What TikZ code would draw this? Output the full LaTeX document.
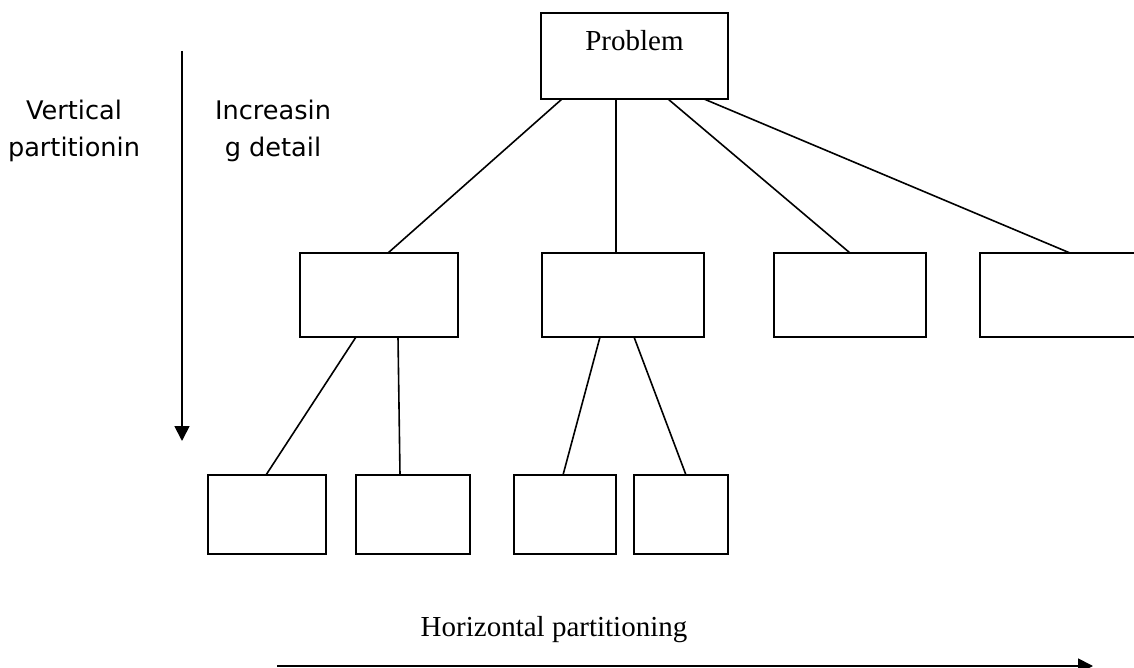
\documentclass[tikz,border=0pt]{standalone}
\usepackage{fontspec}
\setmainfont{Liberation Serif}
\newfontfamily\gothicfont{DejaVu Sans}
\usetikzlibrary{calc,arrows.meta}

\tikzset{
	partbox/.style={draw, line width=1.8pt, inner sep=0pt, outer sep=0pt},
	link/.style={line width=1.6pt},
	sidetext/.style={font=\gothicfont\fontsize{25.6}{37}\selectfont, align=center, inner sep=0pt},
	serif/.style={font=\fontsize{29}{34}\selectfont, inner sep=0pt},
	partarrow/.style={line width=1.8pt, -{Triangle[width=15pt,length=15pt]}}
}

\begin{document}
\begin{tikzpicture}[x=1pt,y=-1pt]
		%%%%% START %%%%%
		\useasboundingbox (0,0) rectangle (1134,668);
		
		% top box
		\node[partbox, serif, minimum width=187pt, text height=38pt, text depth=48pt] (problem) at (634.5,56) {Problem};
		
		% second level
		\node[partbox, minimum width=158pt, minimum height=84pt] (mida) at (379,295) {};
		\node[partbox, minimum width=162pt, minimum height=84pt] (midb) at (623,295) {};
		\node[partbox, minimum width=152pt, minimum height=84pt] (midc) at (850,295) {};
		\node[partbox, minimum width=160pt, minimum height=84pt] (midd) at (1060,295) {};
		
		% third level
		\node[partbox, minimum width=118pt, minimum height=79pt] (lowa) at (267,514.5) {};
		\node[partbox, minimum width=114pt, minimum height=79pt] (lowb) at (413,514.5) {};
		\node[partbox, minimum width=102pt, minimum height=79pt] (lowc) at (565,514.5) {};
		\node[partbox, minimum width=94pt, minimum height=79pt] (lowd) at (681,514.5) {};
		
		\draw[link] ($(problem.south west)+(21,0)$) -- ($(mida.north west)+(88,0)$);
		\draw[link] ($(problem.south west)+(75,0)$) -- ($(midb.north west)+(74,0)$);
		\draw[link] ($(problem.south west)+(127,0)$) -- ($(midc.north west)+(76,0)$);
		\draw[link] ($(problem.south west)+(163,0)$) -- ($(midd.north west)+(90,0)$);
		
		\draw[link] ($(mida.south west)+(56,0)$) -- ($(lowa.north west)+(58,0)$);
		\draw[link] ($(mida.south west)+(98,0)$) -- ($(lowb.north west)+(44,0)$);
		\draw[link] ($(midb.south west)+(58,0)$) -- ($(lowc.north west)+(49,0)$);
		\draw[link] ($(midb.south west)+(92,0)$) -- ($(lowd.north west)+(52,0)$);
		
		% partitioning arrows and labels
		\node[sidetext, anchor=base] (vert) at (74,157) {Vertical\\partitionin};
		\node[sidetext, anchor=base] (incr) at (273,157) {Increasin\\g detail};
		\coordinate (vtop) at (182,51);
		\coordinate (vend) at (182,441);
		\draw[partarrow] (vtop) -- (vend);
		
		\node[serif, anchor=base] (horiz) at (554,636) {Horizontal partitioning};
		\coordinate (hstart) at (277,666);
		\coordinate (hend) at (1093,666);
		\draw[partarrow] (hstart) -- (hend);
		%%%%% END %%%%%
\end{tikzpicture}
\end{document}
